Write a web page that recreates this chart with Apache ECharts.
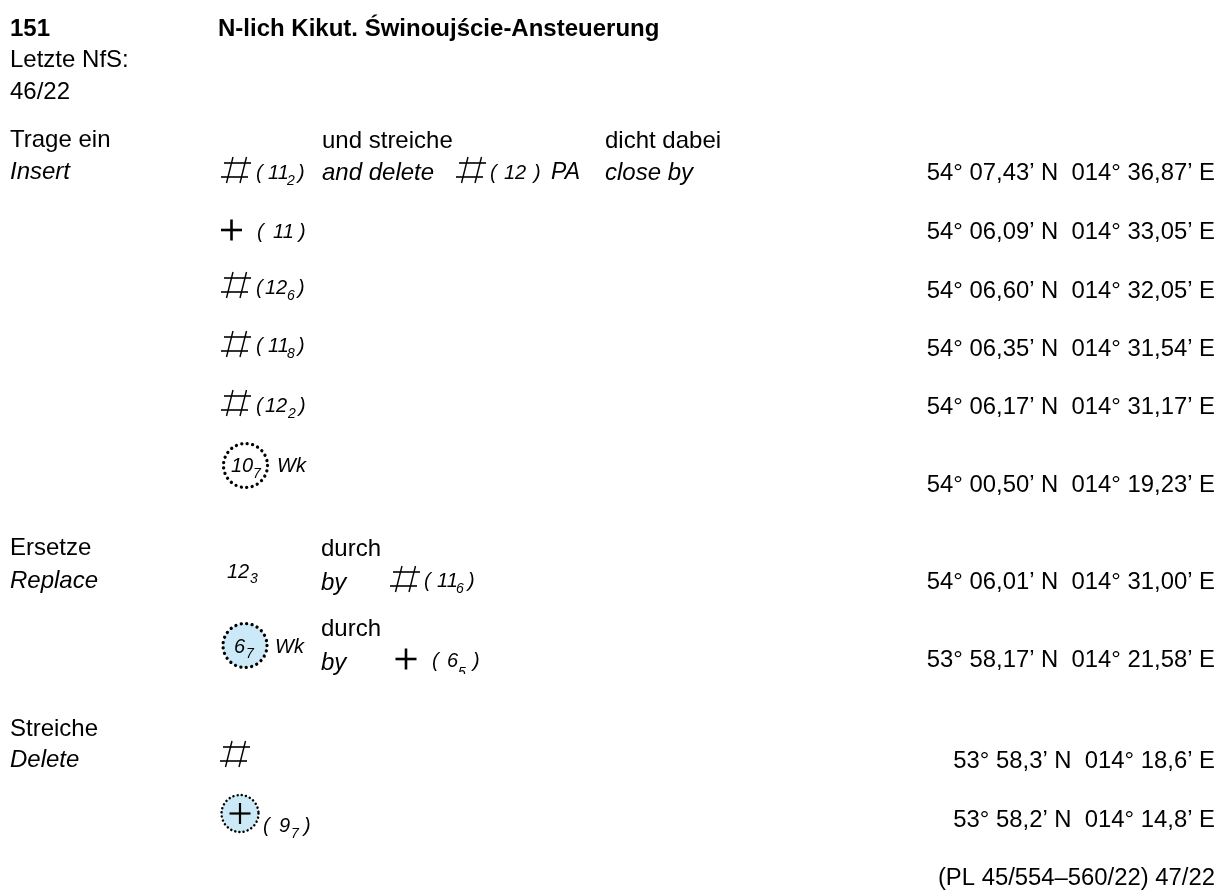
<!DOCTYPE html>
<html><head><meta charset="utf-8">
<style>html,body{margin:0;padding:0;background:#fff}#c{width:1220px;height:890px}</style>
<script src="https://cdn.jsdelivr.net/npm/echarts@6/dist/echarts.min.js"></script>
</head><body><div id="c"></div>
<script>
// ---- content ----
const noticeNumber = '151';
const noticeTitle = 'N-lich Kikut. Świnoujście-Ansteuerung';
const headerLines = ['Letzte NfS:', '46/22'];
const actionsDe = ['Trage ein', 'Ersetze', 'Streiche'];
const actionsEn = ['Insert', 'Replace', 'Delete'];
const connectDe = ['und streiche', 'dicht dabei', 'durch'];
const connectEn = ['and delete', 'close by', 'by'];
const positions = [
  "54° 07,43’ N  014° 36,87’ E", "54° 06,09’ N  014° 33,05’ E", "54° 06,60’ N  014° 32,05’ E",
  "54° 06,35’ N  014° 31,54’ E", "54° 06,17’ N  014° 31,17’ E", "54° 00,50’ N  014° 19,23’ E",
  "54° 06,01’ N  014° 31,00’ E", "53° 58,17’ N  014° 21,58’ E", "53° 58,3’ N  014° 18,6’ E",
  "53° 58,2’ N  014° 14,8’ E"
];
const footer = '(PL 45/554–560/22) 47/22';
const depths = ['11','12','12','11','12','10','12','11','6','6','9','11'];
const depthSubs = ['2','6','8','2','7','3','6','7','5','7'];

// ---- layout ----
const pieces = [];
const FONT = '"Liberation Sans", Arial, sans-serif';
function txt(x, y, text, o) { pieces.push(Object.assign({kind:'text', x, y: y + 1, text, size:24, weight:'normal', italic:false, align:'left'}, o||{})); }
const it = (x, y, t, size) => txt(x, y, t, {italic:true, size: size||24});
const num = (x, y, t) => it(x, y, t, 20);
const sub = (x, y, t) => it(x, y, t, 14);
const hash = (x, y) => pieces.push({kind:'hash', x, y});
const plus = (x, y, w) => pieces.push({kind:'plus', x, y, w: w || 2.6});
const ring = (x, y, r, fill, lw, gap) => pieces.push({kind:'ring', x, y, r, fill, lw, gap});
// depth in brackets: [open, value, sub, close] x-positions
function brk(xs, y, val, s, subDy) {
  num(xs[0], y, '('); num(xs[1], y, val);
  if (s) sub(xs[2], y + (subDy || 8), s);
  num(xs[3], y, ')');
}

txt(10, 28, noticeNumber, {weight:'bold'});
txt(218, 28, noticeTitle, {weight:'bold'});
txt(10, 59, headerLines[0]); txt(10, 91, headerLines[1]);

txt(10, 139, actionsDe[0]); it(10, 171, actionsEn[0]);
txt(10, 547, actionsDe[1]); it(10, 580, actionsEn[1]);
txt(10, 728, actionsDe[2]); it(10, 759, actionsEn[2]);

txt(322, 140, connectDe[0]); it(322, 172, connectEn[0]);
txt(605, 140, connectDe[1]); it(605, 172, connectEn[1]);
txt(321, 548, connectDe[2]); it(321, 582, connectEn[2]);
txt(321, 628, connectDe[2]); it(321, 662, connectEn[2]);

hash(221, 157); brk([256,268,287,298], 172, depths[0], depthSubs[0]);
hash(456, 157); brk([490,504,0,534], 172, depths[1], null); it(551, 172, 'PA', 23);
plus(231.5, 230); brk([257,273,0,299], 231, depths[0], null);
hash(221, 272); brk([256,265,287,298], 287, depths[2], depthSubs[1]);
hash(221, 331); brk([256,268,287,298], 345, depths[3], depthSubs[2]);
hash(221, 390); brk([256,265,288,299], 405, depths[4], depthSubs[3]);

ring(245.5, 465.5, 22, 'none', 3.3, 5.5);
num(231, 465, depths[5]); sub(253, 473, depthSubs[4]); it(277, 465, 'Wk', 20);

num(227, 571, depths[6]); sub(250, 578, depthSubs[5]);
hash(390, 566); brk([424,437,456,468], 580, depths[7], depthSubs[6]);

ring(245, 645.5, 22, '#cce9f8', 3.3, 5.5);
num(234, 646, depths[8]); sub(246, 653, depthSubs[7]); it(275, 646, 'Wk', 20);
plus(406, 659); brk([432,447,458,473], 660, depths[9], depthSubs[8], 12);
pieces.push({kind:'mask', x:455, y:674, w:20, h:10});

hash(220, 741);
ring(240, 813.5, 18.5, '#cce9f8', 2.5, 4.2);
plus(240, 813.5, 2.2);
brk([263,279,291,304], 825, depths[10], depthSubs[9]);

const posY = [172, 231, 290, 348, 406, 484, 581, 659, 760, 819];
positions.forEach((p, i) => txt(1215, posY[i], p, {align:'right', size:23.85}));
txt(1215, 877, footer, {align:'right', size:23.85});

// ---- drawing ----
function renderItem(params, api) {
  const p = pieces[api.value(2)];
  const c = api.coord([p.x, p.y]), x = c[0], y = c[1];
  const line = (x1,y1,x2,y2,w) => ({type:'line', shape:{x1:x+x1,y1:y+y1,x2:x+x2,y2:y+y2}, style:{stroke:'#000', lineWidth:w, fill:null}});
  if (p.kind === 'text') {
    return {type:'text', style:{x, y, text:p.text, fill:'#000', align:p.align, verticalAlign:'middle',
      font:(p.italic?'italic ':'') + p.weight + ' ' + p.size + 'px ' + FONT}};
  }
  if (p.kind === 'hash') {
    return {type:'group', children:[line(3,6,30,6,1.6), line(0,20,27,20,1.6), line(12,0,5.5,26,1.4), line(25.5,0,19,26,1.4)]};
  }
  if (p.kind === 'plus') {
    return {type:'group', children:[line(-10.5,0,10.5,0,p.w), line(0,-10.5,0,10.5,p.w)]};
  }
  if (p.kind === 'ring') {
    return {type:'circle', shape:{cx:x, cy:y, r:p.r}, style:{fill:p.fill, stroke:'#000', lineWidth:p.lw, lineDash:[0.01,p.gap], lineCap:'round'}};
  }
  return {type:'rect', shape:{x, y, width:p.w, height:p.h}, style:{fill:'#fff'}};
}
const chart = echarts.init(document.getElementById('c'), null, {renderer:'canvas'});
chart.setOption({
  animation:false,
  backgroundColor:'#fff',
  grid:{left:0, right:0, top:0, bottom:0},
  xAxis:{type:'value', min:0, max:1220, show:false},
  yAxis:{type:'value', min:0, max:890, inverse:true, show:false},
  series:[{type:'custom', coordinateSystem:'cartesian2d', clip:false, silent:true,
    renderItem, encode:{x:0, y:1}, data:pieces.map((p,i) => [p.x, p.y, i])}]
});
</script></body></html>
